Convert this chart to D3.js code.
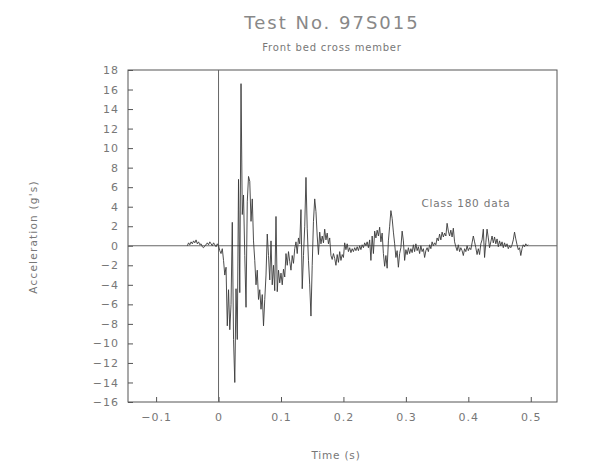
<!DOCTYPE html>
<html lang="en">
<head>
    <meta charset="UTF-8">
    <title>Test No. 97S015</title>
    <style>
        body { margin: 0; background: #fff; }
        text {
            font-family: "DejaVu Sans", sans-serif;
            fill: #777;
        }
        .tick text { font-size: 11px; letter-spacing: 1px; }
        .frame { fill: none; stroke: #555; stroke-width: 1px; }
        .ref { stroke: #666; stroke-width: 1px; }
        .trace { fill: none; stroke: #3a3a3a; stroke-width: 0.9px; stroke-linejoin: round; }
    </style>
    <script src="https://d3js.org/d3.v7.min.js"></script>
</head>
<body>
    <script>
        // Sampled trace: first sample at t0, one sample every dt seconds
        const t0 = -0.05;
        const dt = 0.002;

        // pre-trigger noise, t = -0.050 .. -0.002
        const preTrigger = [0.0, 0.3, 0.1, 0.4, 0.2, 0.5, 0.3, 0.6, 0.2, 0.4, 0.1, 0.2, -0.1,
            -0.2, 0.0, 0.1, 0.3, 0.1, 0.4, 0.2, 0.0, 0.3, 0.1, -0.1, 0.2];

        // impact, t = 0.000 .. 0.178
        const impact = [0.0, -0.5, -0.8, -0.3, -1.5, -3.0, -2.2, -8.2, -4.5, -8.6,
            -6.0, 2.4, -9.6, -14.0, -4.4, -9.6, 6.8, -4.8, 16.6, 3.2,
            5.2, -1.0, -6.3, 4.5, 7.1, 6.6, 2.5, 4.8, 0.5, -1.5,
            -4.0, -2.5, -5.5, -4.5, -6.5, -5.0, -8.2, -5.5, -3.0, 1.2,
            -1.0, -3.5, 0.5, -4.0, -2.0, -4.6, 3.0, -4.7, -2.5, -3.8,
            -2.8, -4.0, -2.4, -3.2, -0.8, -2.0, -0.6, -1.6, -2.5, -1.0,
            -1.8, -0.3, 0.4, -0.8, 0.8, 0.2, 3.7, -4.4, -1.0, 2.0,
            7.0, 1.8, -1.5, -4.0, -7.2, -2.0, 2.5, 4.8, 3.5, 1.0,
            -0.9, 1.4, 0.2, 1.0, 0.3, 1.7, 0.6, 1.3, 0.2, 0.8];

        // decay, t = 0.180 .. 0.496
        const decay = [-1.0, -1.4, -0.8, -1.3, -2.0, -0.9, -1.7, -0.6, -1.5, -0.9,
            -1.2, 0.3, -0.4, 0.2, -0.6, -0.2, -0.7, -0.3, -0.6, -0.2,
            -0.5, -0.1, -0.5, 0.0, -0.4, 0.1, -0.2, 0.3, 0.0, 0.4,
            -0.2, 0.6, -1.5, 1.0, -0.8, 1.5, 0.8, 1.6, 1.0, 1.9,
            0.4, 1.3, -0.8, -2.1, -1.0, -2.3, 0.5, 2.0, 3.6, 2.8,
            1.4, 0.2, -1.2, -0.5, -2.2, -0.8, -0.2, 1.5, 0.5, -1.5,
            -0.4, -0.9, -0.2, -0.8, -0.3, -0.7, 0.1, -0.6, 0.2, -0.5,
            -0.1, -0.8, 0.0, -0.6, -0.3, -1.2, -0.5, -0.2, -0.6, 0.1,
            -0.3, 0.4, 0.0, 0.3, 0.1, 0.8, 0.5, 1.2, 0.6, 1.4,
            0.9, 1.3, 1.0, 2.3, 1.5, 1.0, 1.6, 0.9, 1.8, 0.4,
            -0.1, -0.5, 0.1, -0.6, -0.2, -0.5, -1.0, -0.3, -0.6, 0.0,
            -0.5, -0.2, -0.4, 0.3, 1.0, 0.4, -0.2, -0.9, -0.3, -0.9,
            0.2, 0.6, 1.7, -1.2, 0.3, 1.7, 0.8, -0.2, 0.4, 1.0,
            0.3, 0.9, 0.2, 0.7, -0.1, 0.5, 0.0, 0.4, -0.2, 0.3,
            -0.1, 0.2, -0.3, 0.0, -0.2, 0.1, 0.6, 1.4, 0.7, 0.1,
            -0.4, -0.2, -1.0, -0.3, 0.1, -0.1, 0.2, 0.0, 0.1];

        const accel = preTrigger.concat(impact, decay);

        const yTicks = d3.range(-16, 19, 2);
        const xTicks = [-0.1, 0, 0.1, 0.2, 0.3, 0.4, 0.5];

        const width = 600, height = 474;
        const box = { left: 128, right: 557, top: 70, bottom: 402 };

        const svg = d3.select("body").append("svg")
            .attr("width", width)
            .attr("height", height);

        const x = d3.scaleLinear().domain([-0.145, 0.542]).range([box.left, box.right]);
        const y = d3.scaleLinear().domain([-16, 18]).range([box.bottom, box.top]);

        // frame
        svg.append("rect").attr("class", "frame")
            .attr("x", box.left).attr("y", box.top)
            .attr("width", box.right - box.left)
            .attr("height", box.bottom - box.top);

        // axes, ticks pointing inward
        const yAxis = svg.append("g")
            .attr("transform", `translate(${box.left},0)`)
            .call(d3.axisRight(y).tickValues(yTicks).tickSize(5).tickFormat(d3.format("d")));
        yAxis.selectAll("text").attr("x", -9).attr("text-anchor", "end");

        const xAxis = svg.append("g")
            .attr("transform", `translate(0,${box.bottom})`)
            .call(d3.axisTop(x).tickValues(xTicks).tickSize(5)
                .tickFormat(d => d === 0 ? "0" : d3.format(".1f")(d)));
        xAxis.selectAll("text").attr("y", 15).attr("dy", "0.32em");

        [yAxis, xAxis].forEach(g => {
            g.select(".domain").remove();
            g.selectAll("line").attr("stroke", "#555");
        });

        // zero reference lines
        svg.append("line").attr("class", "ref")
            .attr("x1", box.left).attr("x2", box.right)
            .attr("y1", y(0)).attr("y2", y(0));
        svg.append("line").attr("class", "ref")
            .attr("x1", x(0)).attr("x2", x(0))
            .attr("y1", box.top).attr("y2", box.bottom);

        // trace
        const line = d3.line()
            .x((d, i) => x(t0 + i * dt))
            .y(d => y(d));
        svg.append("path").attr("class", "trace").attr("d", line(accel));

        // labels
        svg.append("text").attr("x", 332).attr("y", 29)
            .attr("text-anchor", "middle").style("font-size", "18px").style("letter-spacing", "2px")
            .style("fill", "#888")
            .text("Test No. 97S015");
        svg.append("text").attr("x", 332).attr("y", 51)
            .attr("text-anchor", "middle").style("font-size", "10px").style("letter-spacing", "0.8px")
            .text("Front bed cross member");
        svg.append("text").attr("x", 466).attr("y", 207)
            .attr("text-anchor", "middle").style("font-size", "10.5px").style("letter-spacing", "0.8px")
            .text("Class 180 data");
        svg.append("text").attr("x", 336).attr("y", 459)
            .attr("text-anchor", "middle").style("font-size", "10.5px").style("letter-spacing", "0.8px")
            .text("Time (s)");
        svg.append("text")
            .attr("transform", "translate(37,237) rotate(-90)")
            .attr("text-anchor", "middle").style("font-size", "10.5px").style("letter-spacing", "1.2px")
            .text("Acceleration (g's)");
    </script>
</body>
</html>
